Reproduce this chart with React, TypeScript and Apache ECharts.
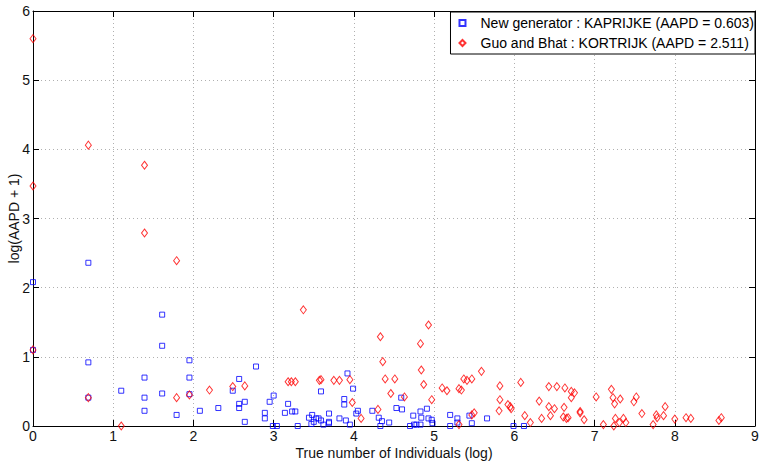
import React, { useEffect, useRef } from "react";
import * as echarts from "echarts";

const seriesNames = [
  "New generator : KAPRIJKE (AAPD = 0.603)",
  "Guo and Bhat : KORTRIJK (AAPD = 2.511)",
];

const xTicks = [0, 1, 2, 3, 4, 5, 6, 7, 8, 9];
const yTicks = [0, 1, 2, 3, 4, 5, 6];

// [log(true number of individuals), log(AAPD + 1)]
const newGenerator: number[][] = [
  [0, 2.08], [0, 1.1], [0.69, 2.36], [0.69, 0.92], [0.69, 0.41], [1.1, 0.51],
  [1.39, 0.7], [1.39, 0.41], [1.39, 0.22], [1.61, 1.61], [1.61, 1.16], [1.61, 0.47],
  [1.79, 0.16], [1.95, 0.95], [1.95, 0.7], [1.95, 0.46], [2.08, 0.22], [2.31, 0.26],
  [2.49, 0.51], [2.57, 0.68], [2.57, 0.32], [2.57, 0.26], [2.64, 0.35], [2.64, 0.06],
  [2.78, 0.86], [2.89, 0.19], [2.89, 0.11], [2.95, 0.35], [3.0, 0.44], [2.99, 0.0],
  [3.04, 0.0], [3.14, 0.19], [3.18, 0.32], [3.23, 0.21], [3.27, 0.21], [3.3, 0.0],
  [3.44, 0.12], [3.48, 0.16], [3.47, 0.03], [3.5, 0.06], [3.53, 0.11], [3.56, 0.11],
  [3.59, 0.5], [3.59, 0.08], [3.62, 0.02], [3.69, 0.18], [3.69, 0.06], [3.69, 0.04],
  [3.82, 0.11], [3.88, 0.39], [3.88, 0.31], [3.92, 0.76], [3.9, 0.08], [3.95, 0.02],
  [3.99, 0.54], [4.03, 0.18], [4.05, 0.22], [4.23, 0.22], [4.31, 0.12], [4.33, 0.0],
  [4.35, 0.07], [4.44, 0.05], [4.53, 0.26], [4.59, 0.41], [4.6, 0.24], [4.7, 0.0],
  [4.74, 0.15], [4.75, 0.02], [4.78, 0.02], [4.83, 0.21], [4.84, 0.12], [4.83, 0.02],
  [4.91, 0.25], [4.93, 0.11], [4.97, 0.09], [4.98, 0.04], [5.2, 0.16], [5.2, 0.0],
  [5.29, 0.11], [5.29, 0.05], [5.44, 0.15], [5.47, 0.04], [5.66, 0.11], [5.99, 0.0],
  [6.12, 0.0],
];

const guoBhat: number[][] = [
  [0, 5.6], [0, 3.47], [0, 1.1], [0.69, 4.06], [0.69, 0.41], [1.1, 0.0],
  [1.39, 3.77], [1.39, 2.79], [1.79, 2.39], [1.79, 0.41], [1.95, 0.45], [2.2, 0.52],
  [2.49, 0.57], [2.64, 0.58], [3.18, 0.64], [3.22, 0.64], [3.27, 0.64], [3.37, 1.68],
  [3.57, 0.66], [3.59, 0.67], [3.75, 0.66], [3.82, 0.66], [3.95, 0.67], [3.98, 0.34],
  [4.09, 0.11], [4.3, 0.24], [4.33, 1.29], [4.36, 0.93], [4.39, 0.68], [4.46, 0.47],
  [4.51, 0.68], [4.63, 0.42], [4.83, 1.19], [4.84, 0.81], [4.87, 0.6], [4.93, 1.46],
  [4.97, 0.38], [5.1, 0.55], [5.16, 0.51], [5.31, 0.54], [5.34, 0.52], [5.31, 0.02],
  [5.37, 0.68], [5.41, 0.66], [5.47, 0.68], [5.47, 0.16], [5.5, 0.19], [5.59, 0.79],
  [5.82, 0.58], [5.82, 0.38], [5.81, 0.22], [5.92, 0.31], [5.95, 0.28], [5.96, 0.25],
  [6.08, 0.63], [6.13, 0.15], [6.2, 0.05], [6.31, 0.36], [6.34, 0.11], [6.43, 0.57],
  [6.43, 0.28], [6.45, 0.15], [6.5, 0.25], [6.53, 0.57], [6.62, 0.27], [6.61, 0.13],
  [6.65, 0.11], [6.67, 0.12], [6.63, 0.55], [6.71, 0.5], [6.75, 0.48], [6.71, 0.41],
  [6.82, 0.21], [6.82, 0.19], [6.87, 0.09], [7.02, 0.42], [7.11, 0.02], [7.21, 0.53],
  [7.23, 0.41], [7.25, 0.32], [7.32, 0.39], [7.26, 0.11], [7.24, 0.0], [7.31, 0.05],
  [7.36, 0.11], [7.39, 0.05], [7.49, 0.35], [7.52, 0.42], [7.59, 0.18], [7.73, 0.02],
  [7.77, 0.16], [7.78, 0.12], [7.86, 0.15], [7.88, 0.28], [8.0, 0.1], [8.14, 0.12],
  [8.2, 0.11], [8.55, 0.08], [8.58, 0.12],
];

const FONT = "'Liberation Sans', Arial, Helvetica, sans-serif";

export default function App() {
  const ref = useRef<HTMLDivElement>(null);

  useEffect(() => {
    document.body.style.margin = "0";
    const chart = echarts.init(ref.current!, null, { renderer: "svg" });
    const xMin = xTicks[0];
    const xMax = xTicks[xTicks.length - 1];
    const yMin = yTicks[0];
    const yMax = yTicks[yTicks.length - 1];

    const mainAxisLine = { show: true, onZero: false, lineStyle: { color: "#000", width: 1 } };
    const tickStyle = { show: true, inside: true, length: 6, lineStyle: { color: "#000", width: 1 } };
    const labelStyle = { color: "#111", fontSize: 14, fontFamily: FONT };
    const gridLine = { show: true, lineStyle: { color: "#b0b0b0", type: [1, 3] as any, width: 1 } };

    chart.setOption({
      animation: false,
      backgroundColor: "#fff",
      grid: {
        left: 33,
        right: 4,
        top: 11,
        bottom: 37,
        containLabel: false,
        outerBoundsMode: "none",
      },
      legend: {
        show: true,
        orient: "vertical",
        right: 4,
        top: 12,
        backgroundColor: "#fff",
        borderColor: "#000",
        borderWidth: 1,
        borderRadius: 0,
        padding: [4, 1, 4, 8],
        itemGap: 6,
        itemWidth: 6,
        itemHeight: 6,
        symbolKeepAspect: true,
        textStyle: { color: "#000", fontSize: 14, fontFamily: FONT, padding: [0, 0, 0, 10] },
        data: seriesNames,
      },
      xAxis: [
        {
          type: "value",
          min: xMin,
          max: xMax,
          interval: 1,
          position: "bottom",
          name: "True number of Individuals (log)",
          nameLocation: "middle",
          nameGap: 20,
          nameMoveOverlap: false,
          nameTextStyle: { color: "#111", fontSize: 14, fontFamily: FONT },
          axisLine: mainAxisLine,
          axisTick: tickStyle,
          axisLabel: { ...labelStyle, margin: 3 },
          splitLine: gridLine,
        },
        {
          type: "value",
          min: xMin,
          max: xMax,
          interval: 1,
          position: "top",
          axisLine: mainAxisLine,
          axisTick: tickStyle,
          axisLabel: { show: false },
          splitLine: { show: false },
        },
      ],
      yAxis: [
        {
          type: "value",
          min: yMin,
          max: yMax,
          interval: 1,
          position: "left",
          name: "log(AAPD + 1)",
          nameLocation: "middle",
          nameGap: 12,
          nameMoveOverlap: false,
          nameTextStyle: { color: "#111", fontSize: 14, fontFamily: FONT },
          axisLine: mainAxisLine,
          axisTick: tickStyle,
          axisLabel: { ...labelStyle, margin: 3 },
          splitLine: gridLine,
        },
        {
          type: "value",
          min: yMin,
          max: yMax,
          interval: 1,
          position: "right",
          axisLine: mainAxisLine,
          axisTick: tickStyle,
          axisLabel: { show: false },
          splitLine: { show: false },
        },
      ],
      series: [
        {
          name: seriesNames[0],
          type: "scatter",
          xAxisIndex: 0,
          yAxisIndex: 0,
          symbol: "rect",
          symbolSize: 5,
          itemStyle: { color: "rgba(255,255,255,0)", borderColor: "#0000ff", borderWidth: 1 },
          data: newGenerator,
          z: 3,
        },
        {
          name: seriesNames[1],
          type: "scatter",
          xAxisIndex: 0,
          yAxisIndex: 0,
          symbol: "diamond",
          symbolSize: [6, 8],
          itemStyle: { color: "rgba(255,255,255,0)", borderColor: "#ff0000", borderWidth: 1 },
          data: guoBhat,
          z: 4,
        },
      ],
    });
    return () => chart.dispose();
  }, []);

  return (
    <div
      ref={ref}
      style={{ position: "absolute", left: 0, top: 0, width: 759, height: 463, background: "#fff" }}
    />
  );
}
